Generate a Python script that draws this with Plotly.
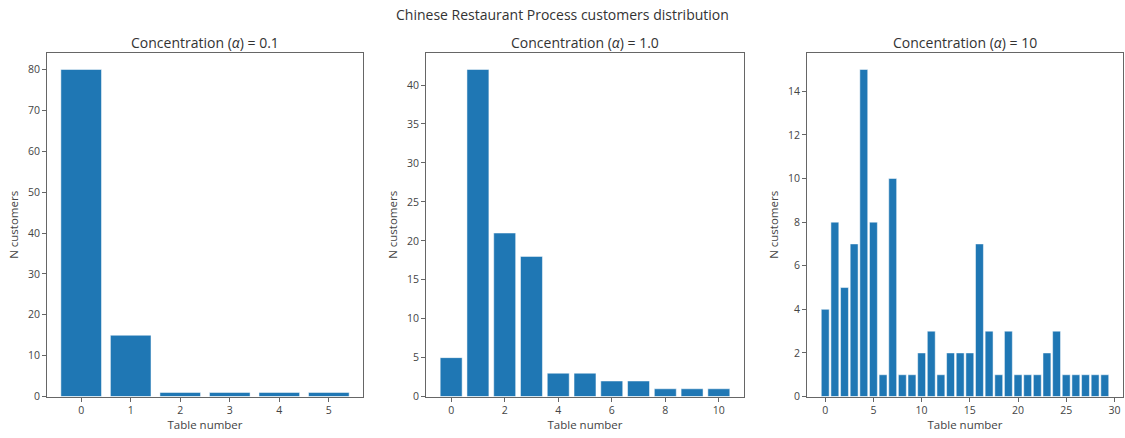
import plotly.graph_objects as go

# Customers seated per table for three concentration values
tables_a01 = [0, 1, 2, 3, 4, 5]
counts_a01 = [80, 15, 1, 1, 1, 1]

tables_a1 = list(range(11))
counts_a1 = [5, 42, 21, 18, 3, 3, 2, 2, 1, 1, 1]

tables_a10 = list(range(30))
counts_a10 = [4, 8, 5, 7, 15, 8, 1, 10, 1, 1,
              2, 3, 1, 2, 2, 2, 7, 3, 1, 3,
              1, 1, 1, 2, 3, 1, 1, 1, 1, 1]

subtitles = ["Concentration (<i>α</i>) = 0.1",
             "Concentration (<i>α</i>) = 1.0",
             "Concentration (<i>α</i>) = 10"]
main_title = "Chinese Restaurant Process customers distribution"

W, H = 1125, 438
BLUE = "#1f77b4"
FRAME = "#666666"
TEXT = "#444444"
FONT = "Open Sans"

panels = [
    (tables_a01, counts_a01, (47, 363), [-0.69, 5.69], [0, 84], 10, 1),
    (tables_a1, counts_a1, (426, 744), [-0.94, 10.94], [0, 44.1], 5, 2),
    (tables_a10, counts_a10, (807, 1123), [-1.89, 30.89], [0, 15.75], 2, 5),
]
top_px, bottom_px = 54, 403

fig = go.Figure()
layout = dict(
    width=W, height=H,
    margin=dict(l=0, r=0, t=0, b=0),
    paper_bgcolor="white", plot_bgcolor="white",
    showlegend=False,
    font=dict(family=FONT, size=10, color=TEXT),
)
annotations = [dict(text=main_title, x=0.5, y=1 - 15 / H, xref="paper", yref="paper",
                    showarrow=False, font=dict(size=14, family=FONT, color="#333333"),
                    xanchor="center", yanchor="middle")]

for i, (xs, ys, (x0, x1), xr, yr, ydt, xdt) in enumerate(panels):
    n = "" if i == 0 else str(i + 1)
    fig.add_trace(go.Bar(x=xs, y=ys, width=0.82,
                         marker=dict(color=BLUE, line=dict(color="white", width=0.5)),
                         xaxis="x" + n, yaxis="y" + n))
    axcommon = dict(showgrid=False, zeroline=False, showline=True, linecolor=FRAME,
                    linewidth=1, mirror=True, ticks="outside", ticklen=4, tickcolor=FRAME,
                    tickfont=dict(size=10.5, family=FONT, color=TEXT))
    layout["xaxis" + n] = dict(axcommon, domain=[x0 / W, x1 / W], range=xr,
                               tick0=0, dtick=xdt, anchor="y" + n,
                               title=dict(text="Table number", standoff=2,
                                          font=dict(size=11.5, family=FONT, color=TEXT)))
    layout["yaxis" + n] = dict(axcommon, domain=[1 - bottom_px / H, 1 - top_px / H],
                               range=yr, tick0=0, dtick=ydt, anchor="x" + n,
                               title=dict(text="N customers", standoff=6,
                                          font=dict(size=11.5, family=FONT, color=TEXT)))
    annotations.append(dict(text=subtitles[i], x=(x0 + x1) / 2 / W, y=1 - 43 / H,
                            xref="paper", yref="paper", showarrow=False,
                            font=dict(size=14, family=FONT, color="#333333"),
                            xanchor="center", yanchor="middle"))

layout["annotations"] = annotations
fig.update_layout(**layout)
fig.write_html("out.html")
